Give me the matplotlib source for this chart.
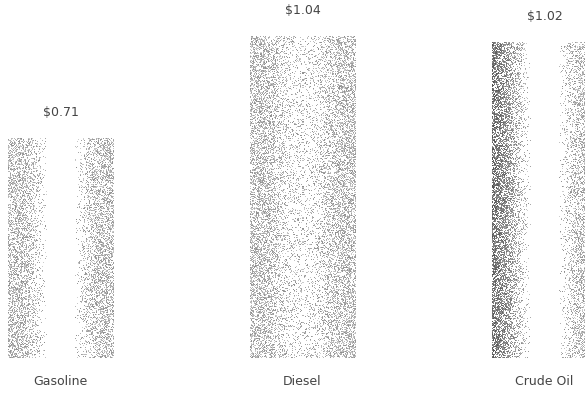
import numpy as np
import matplotlib
matplotlib.use("Agg")
import matplotlib.pyplot as plt

fuels = ["Gasoline", "Diesel", "Crude Oil"]
prices = [0.71, 1.04, 1.02]
price_labels = ["$0.71", "$1.04", "$1.02"]

fig = plt.figure(figsize=(5.85, 3.98), dpi=100)
# axes span the whole width; the last bar runs off the right edge
ax = fig.add_axes([8 / 585, 40 / 398, 577 / 585, 356 / 398])

x = np.arange(len(fuels))
width = 0.434
bars = ax.bar(x, prices, width=width, color="none", edgecolor="none")

rng = np.random.default_rng(7)


def stipple(n_rows, n_cols, floor=0.0, left_dark=0.0):
    # shaded cylinder look: grey toward the edges, pale in the middle,
    # drawn as scattered grey dots
    u = np.linspace(0, 1, n_cols)
    t = np.abs(2 * u - 1)
    shade = floor + (1 - floor) * np.clip((t - 0.25) / 0.5, 0, 1) ** 0.9
    prob = np.tile(shade * 0.5, (n_rows, 1))
    dots = rng.random((n_rows, n_cols)) < prob
    tone = rng.uniform(0.55, 0.82, (n_rows, n_cols))
    if left_dark:
        edge = np.clip(1 - u / 0.3, 0, 1)
        prob2 = np.tile(edge * left_dark, (n_rows, 1))
        dots |= rng.random((n_rows, n_cols)) < prob2
        tone = tone - 0.25 * np.tile(edge, (n_rows, 1))
    return np.where(dots, tone, 1.0)


styles = [(0.0, 0.0), (0.35, 0.0), (0.0, 0.35)]
for bar, (floor, left_dark) in zip(bars, styles):
    x0, w, h = bar.get_x(), bar.get_width(), bar.get_height()
    rows = int(round(h * 310))
    img = stipple(rows, 105, floor, left_dark)
    im = ax.imshow(img, cmap="gray", vmin=0, vmax=1, extent=[x0, x0 + w, 0, h],
                   aspect="auto", interpolation="nearest", zorder=2)
    im.set_clip_path(bar)

for xi, val, lab in zip(x, prices, price_labels):
    ax.annotate(lab, (xi, val), xytext=(0, 14), textcoords="offset points",
                ha="center", va="bottom", fontsize=9, color="#444444")

ax.set_xlim(-width / 2, -width / 2 + 577 / 242)
ax.set_ylim(0, 1.15)
ax.set_xticks(x)
ax.set_xticklabels(fuels, fontsize=9, color="#444444")
ax.tick_params(axis="x", length=0, pad=12)
ax.set_yticks([])
for s in ax.spines.values():
    s.set_visible(False)

fig.savefig("out.png", dpi=100)
